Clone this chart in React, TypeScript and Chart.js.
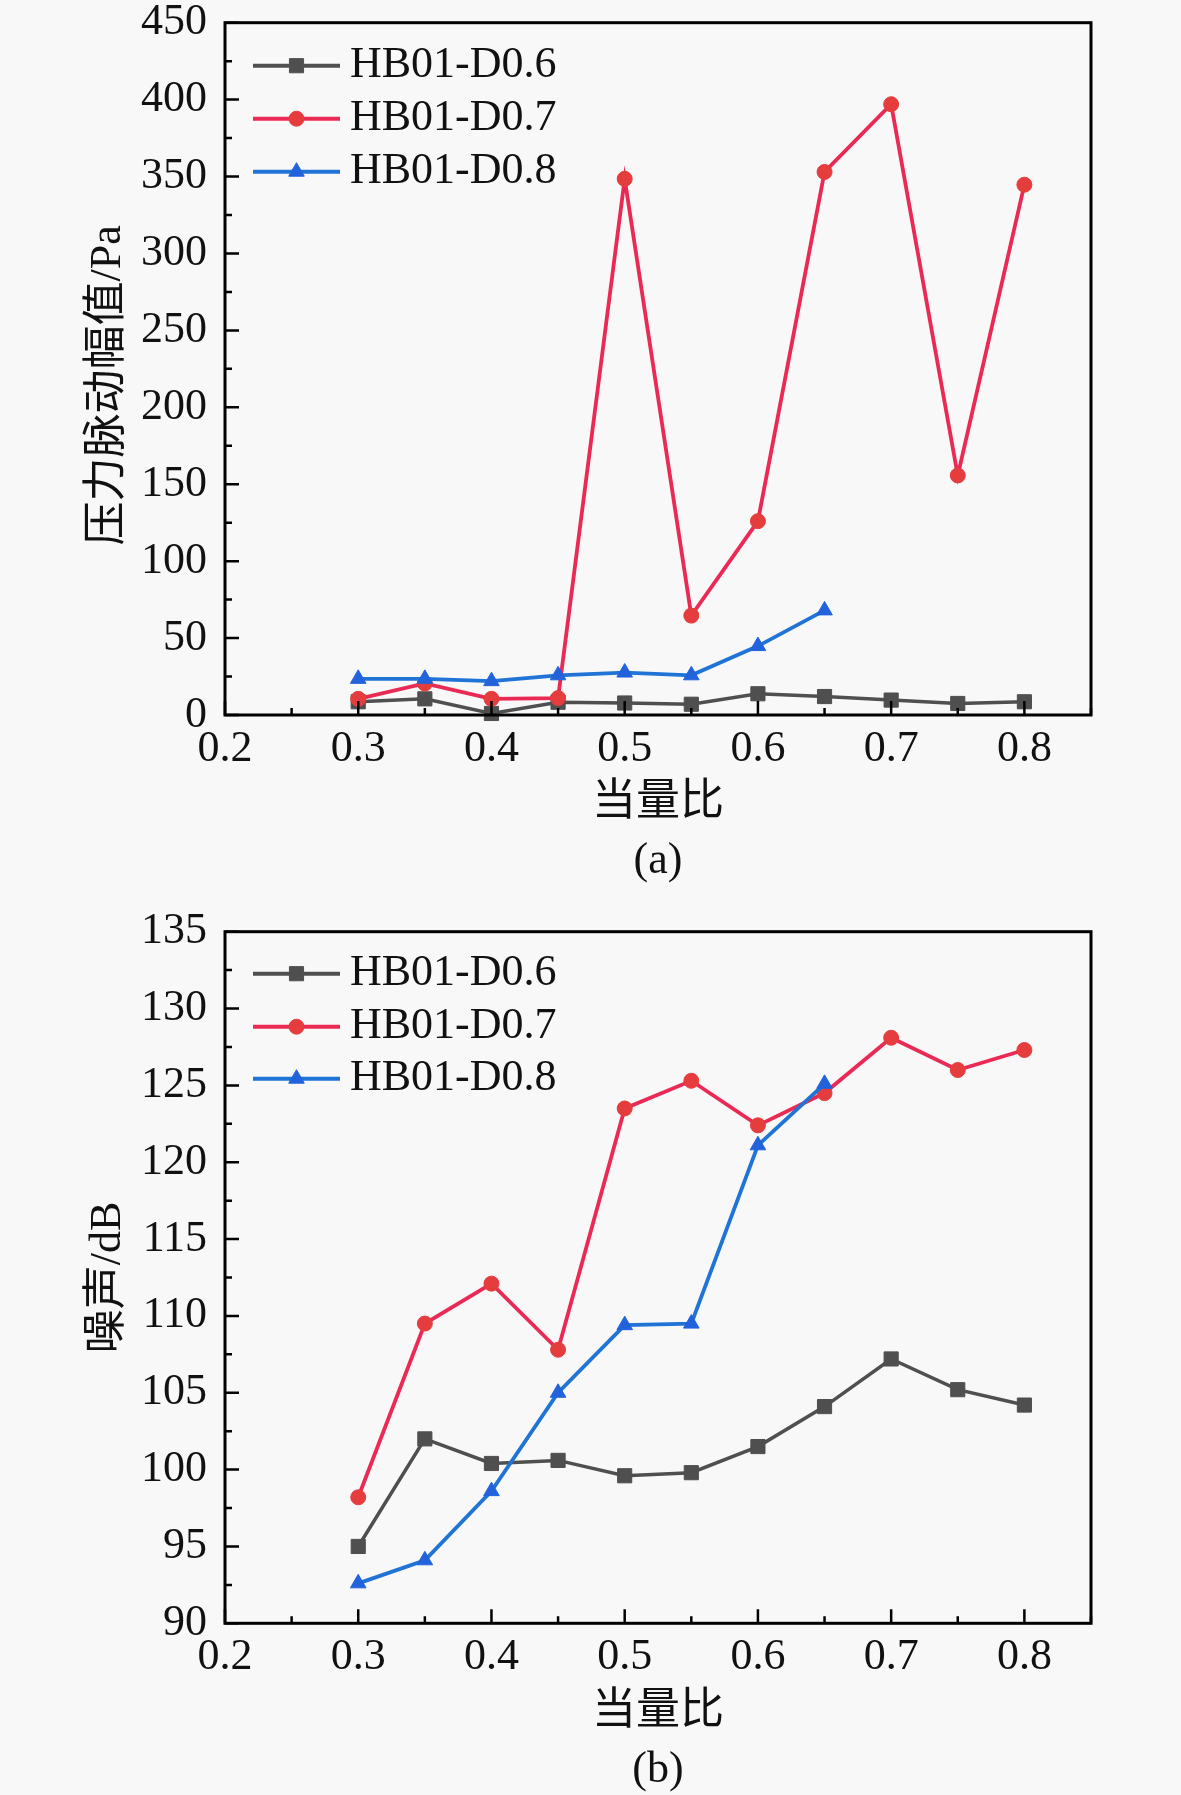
import React, { useEffect, useRef } from 'react';
import { Chart, registerables } from 'chart.js';
import { drawPoint } from 'chart.js/helpers';

Chart.register(...registerables);

// ---------- data ----------
const PHI = [0.3, 0.35, 0.4, 0.45, 0.5, 0.55, 0.6, 0.65, 0.7, 0.75, 0.8];
const SERIES_NAMES = ['HB01-D0.6', 'HB01-D0.7', 'HB01-D0.8'];

const PRESS_D06 = [8.6, 10.5, 1.0, 8.3, 7.8, 7.0, 13.8, 12.0, 9.7, 7.5, 8.6];
const PRESS_D07 = [10.5, 20.5, 10.5, 11.0, 348.5, 64.6, 126.0, 353.0, 397.0, 155.7, 344.7];
const PRESS_D08 = [23.5, 23.5, 22.0, 25.8, 27.6, 25.8, 44.8, 68.0];

const NOISE_D06 = [95.0, 102.0, 100.4, 100.6, 99.6, 99.8, 101.5, 104.1, 107.2, 105.2, 104.2];
const NOISE_D07 = [98.2, 109.5, 112.1, 107.8, 123.5, 125.3, 122.4, 124.5, 128.1, 126.0, 127.3];
const NOISE_D08 = [92.6, 94.1, 98.6, 105.0, 109.4, 109.5, 121.1, 125.1];

// ---------- ticks ----------
const X_MAJOR = [0.2, 0.3, 0.4, 0.5, 0.6, 0.7, 0.8];
const X_MINOR = [0.25, 0.35, 0.45, 0.55, 0.65, 0.75, 0.85];
const Y_A_MAJOR = [0, 50, 100, 150, 200, 250, 300, 350, 400, 450];
const Y_A_MINOR = [25, 75, 125, 175, 225, 275, 325, 375, 425];
const Y_B_MAJOR = [90, 95, 100, 105, 110, 115, 120, 125, 130, 135];
const Y_B_MINOR = [92.5, 97.5, 102.5, 107.5, 112.5, 117.5, 122.5, 127.5, 132.5];

const FONT_FAMILY = "'Liberation Serif', 'Noto Sans CJK SC', serif";
const TEXT_COLOR = '#111111';

const STYLES = [
  { line: '#4f4f4f', fill: '#4f4f4f', pointStyle: 'rect', radius: 10, width: 3.5 },
  { line: '#ea2a55', fill: '#e53d3d', pointStyle: 'circle', radius: 7.5, width: 3.8 },
  { line: '#1f74d6', fill: '#2263dc', pointStyle: 'triangle', radius: 9, width: 3.8 },
];

function makeFramePlugin(xMajor: number[], xMinor: number[], yMajor: number[], yMinor: number[]) {
  return {
    id: 'frameTicks',
    afterDatasetsDraw(chart: any) {
      const { ctx, chartArea: a, scales } = chart;
      const xs = scales.x;
      const ys = scales.y;
      ctx.save();
      ctx.strokeStyle = '#000';
      ctx.lineWidth = 2.5;
      ctx.beginPath();
      const xt = (vals: number[], len: number) => {
        vals.forEach((v) => {
          const px = xs.getPixelForValue(v);
          ctx.moveTo(px, a.bottom);
          ctx.lineTo(px, a.bottom - len);
        });
      };
      const yt = (vals: number[], len: number) => {
        vals.forEach((v) => {
          const py = ys.getPixelForValue(v);
          ctx.moveTo(a.left, py);
          ctx.lineTo(a.left + len, py);
        });
      };
      xt(xMajor, 14);
      xt(xMinor, 7);
      yt(yMajor, 14);
      yt(yMinor, 7);
      ctx.stroke();
      ctx.lineWidth = 3;
      ctx.strokeRect(a.left, a.top, a.right - a.left, a.bottom - a.top);
      ctx.restore();
    },
  };
}

function makeLegendPlugin(rowYs: number[]) {
  return {
    id: 'lineLegend',
    afterDraw(chart: any) {
      const { ctx, chartArea: a } = chart;
      chart.data.datasets.forEach((ds: any, i: number) => {
        const y = a.top + rowYs[i];
        const x1 = a.left + 28;
        const x2 = a.left + 115;
        const xm = (x1 + x2) / 2;
        ctx.save();
        ctx.strokeStyle = ds.borderColor;
        ctx.lineWidth = 4;
        ctx.beginPath();
        ctx.moveTo(x1, y);
        ctx.lineTo(x2, y);
        ctx.stroke();
        ctx.fillStyle = ds.pointBackgroundColor;
        ctx.strokeStyle = ds.pointBorderColor;
        ctx.lineWidth = ds.pointBorderWidth;
        drawPoint(ctx, { pointStyle: ds.pointStyle, radius: ds.pointRadius, rotation: 0, borderWidth: ds.pointBorderWidth } as any, xm, y);
        ctx.font = `44px ${FONT_FAMILY}`;
        ctx.fillStyle = TEXT_COLOR;
        ctx.textBaseline = 'middle';
        ctx.textAlign = 'left';
        ctx.fillText(ds.label, a.left + 125, y);
        ctx.restore();
      });
    },
  };
}

type PanelProps = {
  top: number;
  height: number;
  plotTop: number;
  plotBottom: number;
  yMin: number;
  yMax: number;
  yMajor: number[];
  yMinor: number[];
  yTitle: string;
  caption: string;
  captionPad: number;
  series: number[][];
  legendRows: number[];
};

function Panel(p: PanelProps) {
  const ref = useRef<HTMLCanvasElement>(null);
  useEffect(() => {
    const datasets = p.series.map((vals, i) => ({
      label: SERIES_NAMES[i],
      data: vals.map((y, j) => ({ x: PHI[j], y })),
      borderColor: STYLES[i].line,
      backgroundColor: STYLES[i].fill,
      borderWidth: STYLES[i].width,
      pointStyle: STYLES[i].pointStyle,
      pointRadius: STYLES[i].radius,
      pointBackgroundColor: STYLES[i].fill,
      pointBorderColor: STYLES[i].fill,
      pointBorderWidth: 1,
      tension: 0,
      clip: false as any,
      order: 3 - i,
    }));
    const chart = new Chart(ref.current as HTMLCanvasElement, {
      type: 'line',
      data: { datasets },
      options: {
        animation: false,
        responsive: false,
        events: [],
        layout: { padding: { left: 0, top: p.plotTop, right: 90, bottom: 0 } },
        plugins: { legend: { display: false }, tooltip: { enabled: false }, title: { display: false } },
        scales: {
          x: {
            type: 'linear',
            min: 0.2,
            max: 0.85,
            grid: { display: false, drawTicks: false },
            border: { display: false },
            afterBuildTicks: (s: any) => {
              s.ticks = X_MAJOR.map((v) => ({ value: v }));
            },
            afterFit: (s: any) => {
              s.height = p.height - p.plotBottom;
              s.paddingLeft = 0;
              s.paddingRight = 0;
            },
            ticks: {
              autoSkip: false,
              maxRotation: 0,
              padding: 8,
              color: TEXT_COLOR,
              font: { family: FONT_FAMILY, size: 44, lineHeight: 1.2 },
              callback: (v: any) => Number(v).toFixed(1),
            },
            title: {
              display: true,
              text: ['当量比', p.caption],
              color: TEXT_COLOR,
              font: { family: FONT_FAMILY, size: 44, lineHeight: 1.3 },
              padding: { top: 0, bottom: p.captionPad },
            },
          },
          y: {
            type: 'linear',
            min: p.yMin,
            max: p.yMax,
            grid: { display: false, drawTicks: false },
            border: { display: false },
            afterBuildTicks: (s: any) => {
              s.ticks = p.yMajor.map((v) => ({ value: v }));
            },
            afterFit: (s: any) => {
              s.width = 225;
              s.paddingTop = 0;
              s.paddingBottom = 0;
            },
            ticks: {
              autoSkip: false,
              padding: 18,
              color: TEXT_COLOR,
              font: { family: FONT_FAMILY, size: 44, lineHeight: 1.2 },
              callback: (v: any) => String(v),
            },
            title: {
              display: true,
              text: p.yTitle,
              color: TEXT_COLOR,
              font: { family: FONT_FAMILY, size: 44, lineHeight: 1.2 },
              padding: { top: 81.6, bottom: 0 },
            },
          },
        },
      } as any,
      plugins: [makeFramePlugin(X_MAJOR, X_MINOR, p.yMajor, p.yMinor), makeLegendPlugin(p.legendRows)],
    });
    return () => chart.destroy();
  }, []);
  return (
    <canvas
      ref={ref}
      width={1181}
      height={p.height}
      style={{ position: 'absolute', left: 0, top: p.top, width: 1181, height: p.height, display: 'block' }}
    />
  );
}

export default function App() {
  return (
    <div
      style={{
        position: 'fixed',
        left: 0,
        top: 0,
        width: 1181,
        height: 1795,
        overflow: 'hidden',
        background: '#f8f8f8',
      }}
    >
      <Panel
        top={0}
        height={895}
        plotTop={22.7}
        plotBottom={715}
        yMin={0}
        yMax={450}
        yMajor={Y_A_MAJOR}
        yMinor={Y_A_MINOR}
        yTitle={'压力脉动幅值/Pa\u00a0\u00a0\u00a0'}
        caption="(a)"
        captionPad={5.4}
        series={[PRESS_D06, PRESS_D07, PRESS_D08]}
        legendRows={[43, 96, 149]}
      />
      <Panel
        top={895}
        height={920}
        plotTop={36.7}
        plotBottom={728.3}
        yMin={90}
        yMax={135}
        yMajor={Y_B_MAJOR}
        yMinor={Y_B_MINOR}
        yTitle="噪声/dB"
        caption="(b)"
        captionPad={16.4}
        series={[NOISE_D06, NOISE_D07, NOISE_D08]}
        legendRows={[42, 95, 147]}
      />
    </div>
  );
}
